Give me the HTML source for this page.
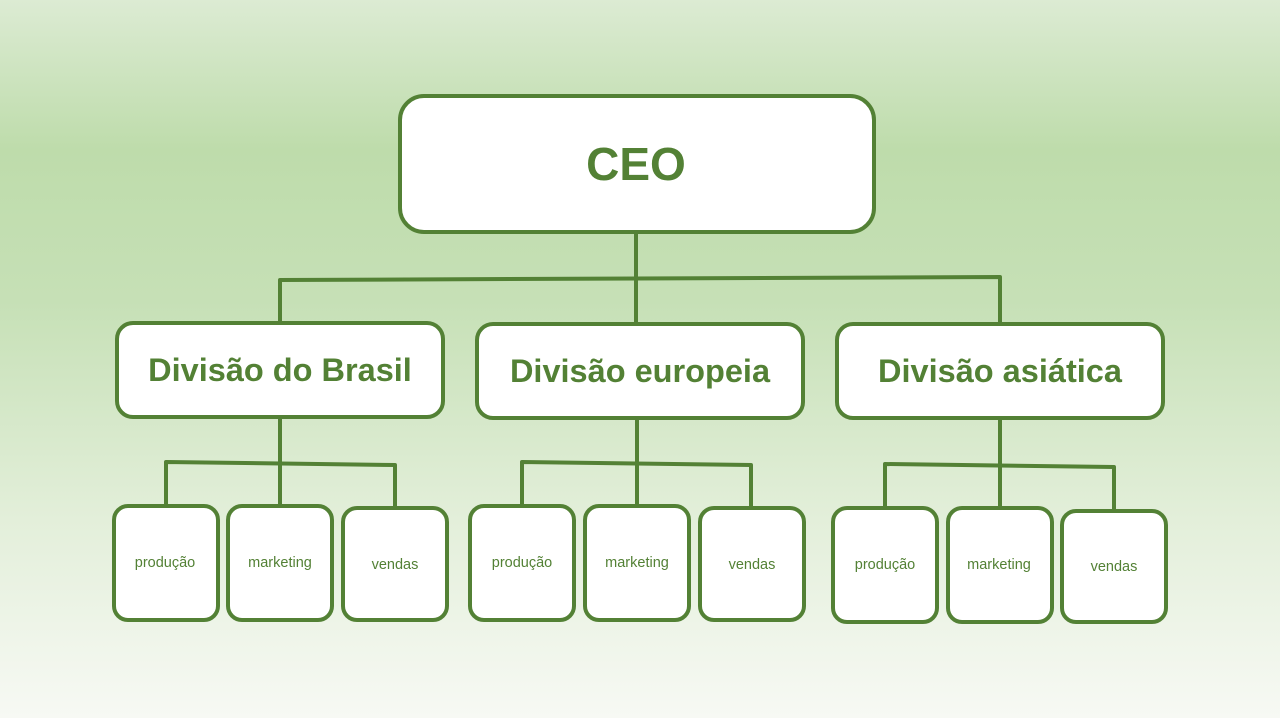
<!DOCTYPE html>
<html><head><style>
html,body{margin:0;padding:0;}
body{width:1280px;height:718px;overflow:hidden;background:linear-gradient(to bottom,#dcebd3 0px,#bedcab 150px,#c6e0b6 300px,#e3efda 520px,#f7f9f4 718px);}
svg{display:block}
text{font-family:"Liberation Sans",sans-serif;fill:#538135;text-anchor:middle;}
</style></head><body>
<svg width="1280" height="718" viewBox="0 0 1280 718">
<g fill="none" stroke="#538135" stroke-width="4" stroke-linejoin="round">
<line x1="636" y1="232" x2="636" y2="324"/>
<polyline points="280,323 280,280 1000,277 1000,324"/>
<line x1="280" y1="417" x2="280" y2="506"/>
<polyline points="166,506 166,462 395,465 395,508"/>
<line x1="637" y1="418" x2="637" y2="506"/>
<polyline points="522,506 522,462 751,465 751,508"/>
<line x1="1000" y1="418" x2="1000" y2="508"/>
<polyline points="885,508 885,464 1114,467 1114,511"/>
</g>
<g fill="#fff" stroke="#538135" stroke-width="4">
<rect x="400" y="96" width="474" height="136" rx="24"/>
<rect x="117" y="323" width="326" height="94" rx="16"/>
<rect x="477" y="324" width="326" height="94" rx="16"/>
<rect x="837" y="324" width="326" height="94" rx="16"/>
<rect x="114" y="506" width="104" height="114" rx="14"/>
<rect x="228" y="506" width="104" height="114" rx="14"/>
<rect x="343" y="508" width="104" height="112" rx="14"/>
<rect x="470" y="506" width="104" height="114" rx="14"/>
<rect x="585" y="506" width="104" height="114" rx="14"/>
<rect x="700" y="508" width="104" height="112" rx="14"/>
<rect x="833" y="508" width="104" height="114" rx="14"/>
<rect x="948" y="508" width="104" height="114" rx="14"/>
<rect x="1062" y="511" width="104" height="111" rx="14"/>
</g>
<text x="636" y="180" font-size="46" font-weight="bold">CEO</text>
<text x="280" y="381" font-size="32.5" font-weight="bold">Divisão do Brasil</text>
<text x="640" y="382" font-size="32.5" font-weight="bold">Divisão europeia</text>
<text x="1000" y="382" font-size="32.5" font-weight="bold">Divisão asiática</text>
<g font-size="14.5">
<text x="165" y="567">produção</text>
<text x="280" y="567">marketing</text>
<text x="395" y="569">vendas</text>
<text x="522" y="567">produção</text>
<text x="637" y="567">marketing</text>
<text x="752" y="569">vendas</text>
<text x="885" y="569">produção</text>
<text x="999" y="569">marketing</text>
<text x="1114" y="571">vendas</text>
</g>
</svg>
</body></html>
